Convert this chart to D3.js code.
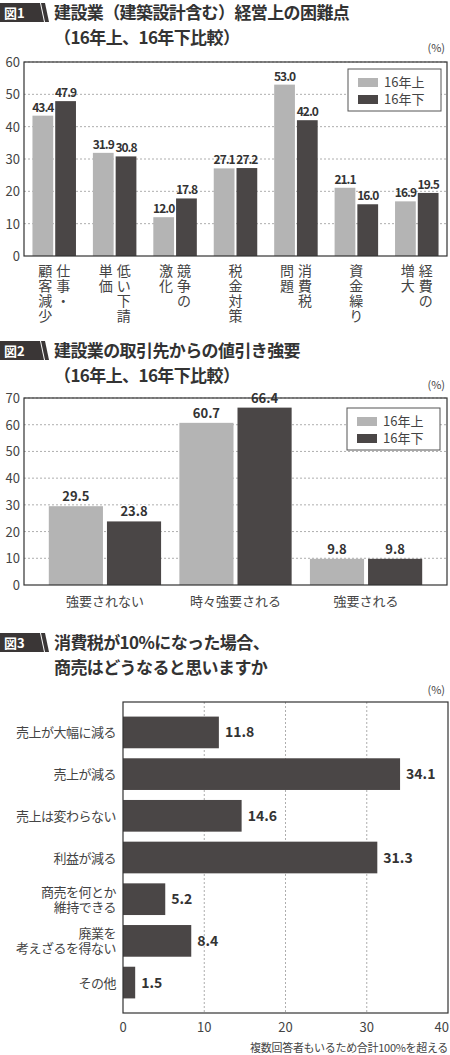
<!DOCTYPE html><html><head><meta charset="utf-8"><script src="https://cdn.jsdelivr.net/npm/d3@7"></script>
<style>body{margin:0;background:#fff}text{font-family:"Noto Sans CJK JP",sans-serif}</style></head><body><svg id="s" width="450" height="1055"></svg><script>
const cat1=[["仕事・","顧客減少"],["低い下請","単価"],["競争の","激化"],["税金対策"],["消費税","問題"],["資金繰り"],["経費の","増大"]];
const s1a=[43.4,31.9,12.0,27.1,53.0,21.1,16.9];
const s1b=[47.9,30.8,17.8,27.2,42.0,16.0,19.5];
const cat2=["強要されない","時々強要される","強要される"];
const s2a=[29.5,60.7,9.8];
const s2b=[23.8,66.4,9.8];
const cat3=[["売上が大幅に減る"],["売上が減る"],["売上は変わらない"],["利益が減る"],["商売を何とか","維持できる"],["廃業を","考えざるを得ない"],["その他"]];
const v3=[11.8,34.1,14.6,31.3,5.2,8.4,1.5];
const series=["16年上","16年下"];
const LIGHT="#b4b4b4",DARK="#4a4646";
const svg=d3.select("#s");
function header(y,num,lines){
  const g=svg.append("g");
  g.append("path").attr("d",`M0,${y}H40L44,${y+19}H0Z`).attr("fill","#3a3636");
  g.append("path").attr("d",`M41,${y}L45,${y}L49,${y+19}L45,${y+19}Z`).attr("fill","#3a3636");
  g.append("text").attr("x",4).attr("y",y+15).attr("fill","#fff").attr("font-size",13).attr("font-weight","bold").text("図"+num);
  lines.forEach((l,i)=>g.append("text").attr("x",54).attr("y",y+16+i*25).attr("font-size",17).attr("font-weight","bold").attr("letter-spacing",-0.6).attr("fill","#333").text(l));
}
function legend(x,y){
  svg.append("rect").attr("x",x).attr("y",y).attr("width",93).attr("height",42).attr("fill","#fff").attr("stroke","#555");
  [LIGHT,DARK].forEach((c,i)=>{svg.append("rect").attr("x",x+10).attr("y",y+9+i*17).attr("width",20).attr("height",9).attr("fill",c);
    svg.append("text").attr("x",x+36).attr("y",y+18+i*17).attr("font-size",13).attr("fill","#444").text(series[i]);});
}
function grid(g,y,ticks,x0,x1){
  ticks.forEach(t=>{if(t>0)g.append("line").attr("x1",x0).attr("x2",x1).attr("y1",y(t)).attr("y2",y(t)).attr("stroke","#999").attr("stroke-dasharray","2,2").attr("stroke-width",0.8);
    g.append("text").attr("x",x0-4).attr("y",y(t)+5).attr("text-anchor","end").attr("font-size",13).attr("fill","#444").text(t);});
}
// Chart 1
header(3,1,["建設業（建築設計含む）経営上の困難点","（16年上、16年下比較）"]);
{const L=24,R=447,T=62,B=256;
 const x=d3.scaleBand().domain(d3.range(7)).range([L,R]).paddingInner(0.28).paddingOuter(0.14);
 const y=d3.scaleLinear().domain([0,60]).range([B,T]);
 const g=svg.append("g");
 grid(g,y,[0,10,20,30,40,50,60],L,R);
 svg.append("text").attr("x",445).attr("y",52).attr("text-anchor","end").attr("font-size",11).attr("fill","#444").text("(%)");
 [s1a,s1b].forEach((s,k)=>s.forEach((v,i)=>{const w=x.bandwidth()/2-1;const xx=x(i)+k*(w+2);
   g.append("rect").attr("x",xx).attr("y",y(v)).attr("width",w).attr("height",B-y(v)).attr("fill",k?DARK:LIGHT);
   g.append("text").attr("x",xx+w/2).attr("y",y(v)-4).attr("text-anchor","middle").attr("font-size",12).attr("font-weight","bold").attr("fill","#333").attr("letter-spacing",-1).text(v.toFixed(1));}));
 g.append("rect").attr("x",L).attr("y",T).attr("width",R-L).attr("height",B-T).attr("fill","none").attr("stroke","#333").attr("stroke-width",1.2);
 legend(348,69);
 cat1.forEach((c,i)=>{const cx=x(i)+x.bandwidth()/2;
   c.forEach((col,j)=>{const xx=c.length==1?cx:(j==0?cx+9:cx-9);
     [...col].forEach((ch,k)=>g.append("text").attr("x",xx).attr("y",276+k*15).attr("text-anchor","middle").attr("font-size",14).attr("fill","#444").text(ch));});});
}
// Chart 2
header(341,2,["建設業の取引先からの値引き強要","（16年上、16年下比較）"]);
{const L=24,R=447,T=398,B=585;
 const x=d3.scaleBand().domain(d3.range(3)).range([L,R]).paddingInner(0.14).paddingOuter(0.19);
 const y=d3.scaleLinear().domain([0,70]).range([B,T]);
 const g=svg.append("g");
 grid(g,y,[0,10,20,30,40,50,60,70],L,R);
 svg.append("text").attr("x",445).attr("y",389).attr("text-anchor","end").attr("font-size",11).attr("fill","#444").text("(%)");
 [s2a,s2b].forEach((s,k)=>s.forEach((v,i)=>{const w=x.bandwidth()/2-2;const xx=x(i)+k*(w+4);
   g.append("rect").attr("x",xx).attr("y",y(v)).attr("width",w).attr("height",B-y(v)).attr("fill",k?DARK:LIGHT);
   g.append("text").attr("x",xx+w/2).attr("y",y(v)-5).attr("text-anchor","middle").attr("font-size",13).attr("font-weight","bold").attr("fill","#333")
    .attr("stroke","#fff").attr("stroke-width",3).attr("paint-order","stroke").text(v.toFixed(1));}));
 g.append("rect").attr("x",L).attr("y",T).attr("width",R-L).attr("height",B-T).attr("fill","none").attr("stroke","#333").attr("stroke-width",1.2);
 legend(347,408);
 cat2.forEach((c,i)=>g.append("text").attr("x",x(i)+x.bandwidth()/2).attr("y",606).attr("text-anchor","middle").attr("font-size",13).attr("fill","#444").text(c));
}
// Chart 3
header(633,3,["消費税が10%になった場合、","商売はどうなると思いますか"]);
{const L=123,R=448,T=702,B=1013;
 const x=d3.scaleLinear().domain([0,40]).range([L,R]);
 const y=d3.scaleBand().domain(d3.range(7)).range([T,B]).paddingInner(0.24).paddingOuter(0.35);
 const g=svg.append("g");
 [0,10,20,30,40].forEach(t=>{if(t>0&&t<40)g.append("line").attr("x1",x(t)).attr("x2",x(t)).attr("y1",T).attr("y2",B).attr("stroke","#999").attr("stroke-dasharray","2,2").attr("stroke-width",0.8);
   g.append("text").attr("x",t==40?x(t)+1:x(t)).attr("y",1032).attr("text-anchor",t==40?"end":"middle").attr("font-size",13).attr("fill","#444").text(t);});
 svg.append("text").attr("x",445).attr("y",694).attr("text-anchor","end").attr("font-size",11).attr("fill","#444").text("(%)");
 v3.forEach((v,i)=>{g.append("rect").attr("x",L).attr("y",y(i)).attr("width",x(v)-L).attr("height",y.bandwidth()).attr("fill",DARK);
   g.append("text").attr("x",x(v)+6).attr("y",y(i)+y.bandwidth()/2+5).attr("font-size",14).attr("font-weight","bold").attr("fill","#333").text(v.toFixed(1));
   const c=cat3[i];c.forEach((l,j)=>g.append("text").attr("x",116).attr("y",y(i)+y.bandwidth()/2+5+(j-(c.length-1)/2)*15).attr("text-anchor","end").attr("font-size",13).attr("fill","#444").attr("letter-spacing",-0.5).text(l));});
 g.append("rect").attr("x",L).attr("y",T).attr("width",R-L).attr("height",B-T).attr("fill","none").attr("stroke","#333").attr("stroke-width",1.2);
 svg.append("text").attr("x",448).attr("y",1052).attr("text-anchor","end").attr("font-size",11).attr("letter-spacing",-0.3).attr("fill","#444").text("複数回答者もいるため合計100%を超える");
}
</script></body></html>
